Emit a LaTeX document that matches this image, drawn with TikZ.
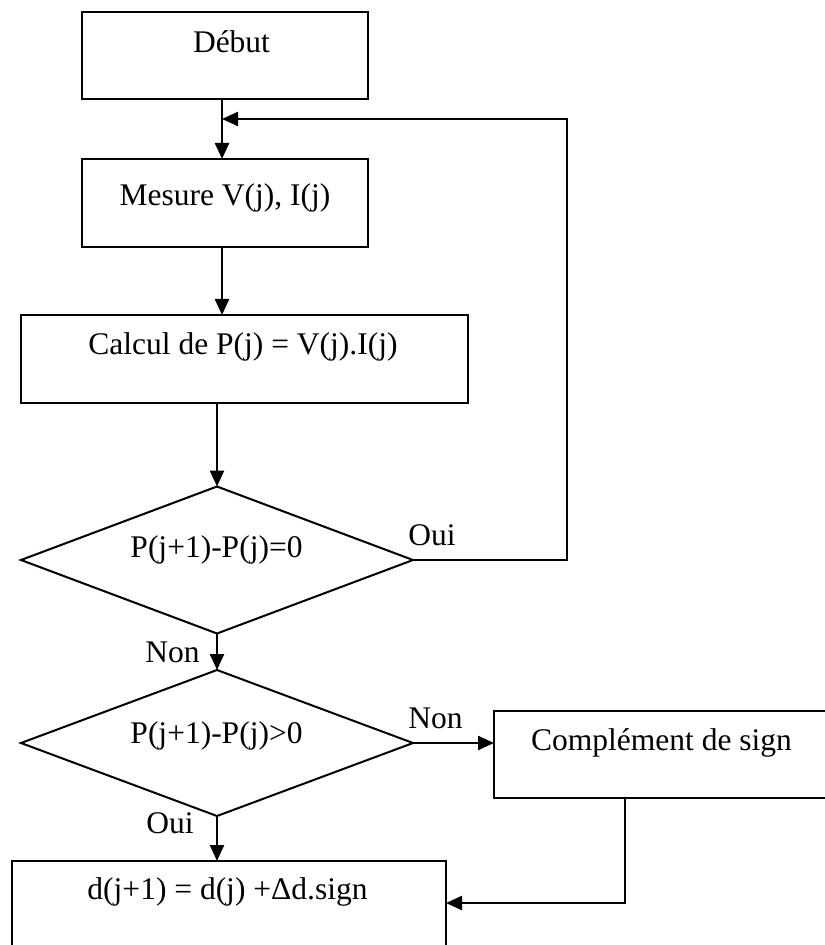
\documentclass[tikz,border=0pt]{standalone}
\usepackage{fontspec}
\setmainfont{Liberation Serif}
\usetikzlibrary{arrows.meta,shapes.geometric}
\begin{document}
\begin{tikzpicture}[x=0.5pt,y=-0.5pt,
  font=\fontsize{15.75pt}{19pt}\selectfont,
  box/.style={draw,line width=1pt,rectangle,inner sep=0pt,outer sep=0pt},
  decision/.style={draw,line width=1pt,diamond,inner sep=0pt,outer sep=0pt},
  txt/.style={anchor=base,inner sep=0pt},
  lbl/.style={anchor=base west,inner sep=0pt},
  arr/.style={line width=1.2pt,-{Triangle[length=8pt,width=7pt]}},
  wire/.style={line width=1.2pt}]
\useasboundingbox (0,0) rectangle (824,945);

% boxes
\node[box,minimum width=143pt,minimum height=43.5pt] (debut) at (225,55.5) {};
\node[box,minimum width=143pt,minimum height=44pt] (mesure) at (225,203) {};
\node[box,minimum width=223.5pt,minimum height=44pt] (calcul) at (244.5,359) {};
\node[decision,minimum width=196pt,minimum height=73.5pt] (d1) at (217,560) {};
\node[decision,minimum width=196pt,minimum height=73pt] (d2) at (217,743) {};
\node[box,minimum width=170pt,minimum height=43.5pt] (comp) at (664,754.5) {};
\node[box,minimum width=217pt,minimum height=49.5pt] (calc d) at (229,910.5) {};

% texts
\node[txt] (t-debut) at (231.5,53) {Début};
\node[txt] (t-mesure) at (225,206) {Mesure V(j), I(j)};
\node[txt] (t-calcul) at (243,355) {Calcul de P(j) = V(j).I(j)};
\node[txt] (t-d1) at (216.5,557) {P(j+1)-P(j)=0};
\node[txt] (t-d2) at (216.5,743) {P(j+1)-P(j)>0};
\node[txt] (t-comp) at (661.5,750) {Complément de sign};
\node[txt] (t-d) at (227.5,899) {d(j+1) = d(j) +Δd.sign};

% branch labels
\node[lbl] (oui1) at (408,545) {Oui};
\node[lbl] (non1) at (145,662) {Non};
\node[lbl] (non2) at (408,728) {Non};
\node[lbl] (oui2) at (146,833) {Oui};

% connector helper points
\coordinate (join) at (222,119);
\coordinate (loop) at (567,119);
\coordinate (back) at (625,903);

% connectors
\draw[arr] (debut.south -| join) -- (mesure.north -| join);
\draw[arr] (d1.east) -- (d1.east -| loop) -- (loop) -- (join);
\draw[arr] (mesure.south -| join) -- (calcul.north -| join);
\draw[arr] (calcul.south -| d1) -- (d1.north);
\draw[arr] (d1.south) -- (d2.north);
\draw[arr] (d2.east) -- (comp.west |- d2.east);
\draw[arr] (d2.south) -- (calc d.north -| d2.south);
\draw[arr] (comp.south -| back) -- (back) -- (calc d.east |- back);
\end{tikzpicture}
\end{document}
